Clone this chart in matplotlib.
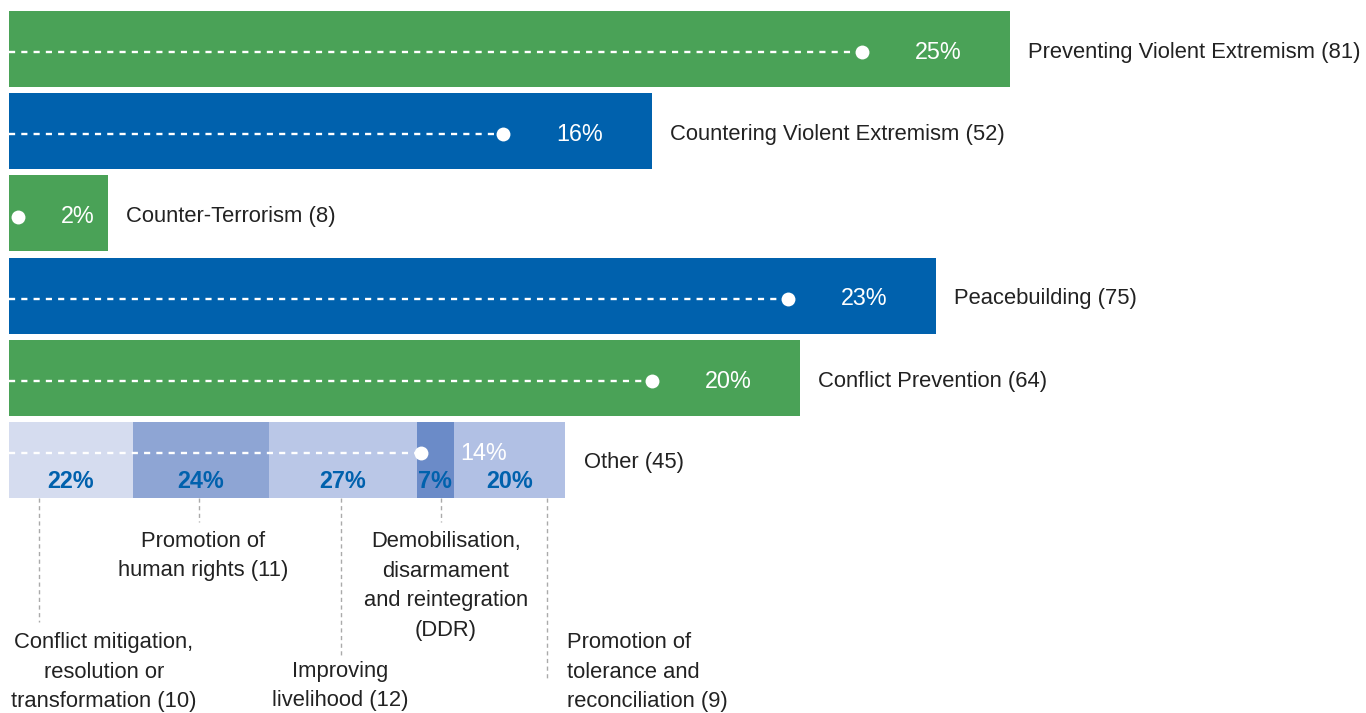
import matplotlib
matplotlib.use("Agg")
import matplotlib.pyplot as plt

plt.rcParams['font.family'] = ['Liberation Sans', 'DejaVu Sans']

# ---- data ----
categories = ["Preventing Violent Extremism", "Countering Violent Extremism",
              "Counter-Terrorism", "Peacebuilding", "Conflict Prevention", "Other"]
counts = [81, 52, 8, 75, 64, 45]
shares = ["25%", "16%", "2%", "23%", "20%", "14%"]

other_labels = ["Conflict mitigation,\nresolution or\ntransformation",
                "Promotion of\nhuman rights",
                "Improving\nlivelihood",
                "Demobilisation,\ndisarmament\nand reintegration\n(DDR)",
                "Promotion of\ntolerance and\nreconciliation"]
other_counts = [10, 11, 12, 3, 9]
other_shares = ["22%", "24%", "27%", "7%", "20%"]

# ---- style ----
GREEN = "#4aa257"
BLUE = "#0061ad"
bar_colors = [GREEN, BLUE, GREEN, BLUE, GREEN]
seg_colors = ["#d5dcef", "#8ea5d4", "#bac7e7", "#6b8bc8", "#b1c0e4"]
TXT = "#222222"

W, H = 1366, 713
fig = plt.figure(figsize=(W / 100, H / 100), dpi=100)
ax = fig.add_axes([0, 0, 1, 1])
s = 1001 / 81.0          # px per unit
x0px, y0px, dy = 9, 49, 82.2
ax.set_xlim(-x0px / s, (W - x0px) / s)
ax.set_ylim((H - y0px) / dy, -y0px / dy)
ax.axis("off")

def px2x(p):
    return (p - x0px) / s

def px2y(p):
    return (p - y0px) / dy

bh = 0.925
dot_off = 12.0
lab_off = 5.8
fs_lab = 15.8
fs_pct = 16.8

# main bars
for i in range(5):
    c = counts[i]
    ax.barh(i, c, height=bh, color=bar_colors[i], left=0)
    yl = i + 0.04
    dot = c - dot_off
    if dot > 0:
        ax.plot([0, dot], [yl, yl], color="white", lw=1.7, dashes=(2.6, 2.6),
                dash_capstyle="butt")
        px_lab = c - lab_off
    else:
        dot = px2x(18)
        px_lab = c - 2.4
    ax.plot([dot], [yl], "o", color="white", ms=10, mec="none")
    ax.text(px_lab, yl, shares[i], color="white", fontsize=fs_pct,
            ha="center", va="center")
    ax.text(c + 18 / s, yl, f"{categories[i]} ({c})", color=TXT,
            fontsize=fs_lab, ha="left", va="center")

# Other stacked bar
i = 5
left = 0
for k, v in enumerate(other_counts):
    ax.barh(i, v, height=bh, left=left, color=seg_colors[k])
    ax.text(left + v / 2, px2y(481), other_shares[k], color=BLUE,
            fontsize=fs_pct, fontweight="bold", ha="center", va="center")
    left += v
total_other = counts[5]
yl = px2y(453)
dot = total_other - 11.7
ax.plot([0, dot], [yl, yl], color="white", lw=1.7, dashes=(2.6, 2.6),
        dash_capstyle="butt")
ax.plot([dot], [yl], "o", color="white", ms=10, mec="none")
ax.text(total_other - 6.6, yl, shares[5], color="white", fontsize=fs_pct,
        ha="center", va="center")
ax.text(total_other + 19 / s, px2y(462), f"{categories[5]} ({total_other})",
        color=TXT, fontsize=fs_lab, ha="left", va="center")

# leader lines and annotation labels (layout in px)
leader_x = [39, 199, 341, 441, 547]
leader_end = [622, 522, 658, 522, 678]
text_pos = [(104, 672, "center"), (203, 556, "center"), (340, 686, "center"),
            (446, 586, "center"), (567, 672, "left")]
bar_bottom = i + bh / 2
for k in range(5):
    ax.plot([px2x(leader_x[k])] * 2, [bar_bottom, px2y(leader_end[k])],
            color="#aaaaaa", lw=1.0, dashes=(3, 2.5))
    tx, ty, ha = text_pos[k]
    label = other_labels[k] if k == 3 else f"{other_labels[k]} ({other_counts[k]})"
    ax.text(px2x(tx), px2y(ty), label,
            color=TXT, fontsize=fs_lab, ha=ha, va="center",
            multialignment=ha, linespacing=1.55)

fig.savefig("out.png", dpi=100)
